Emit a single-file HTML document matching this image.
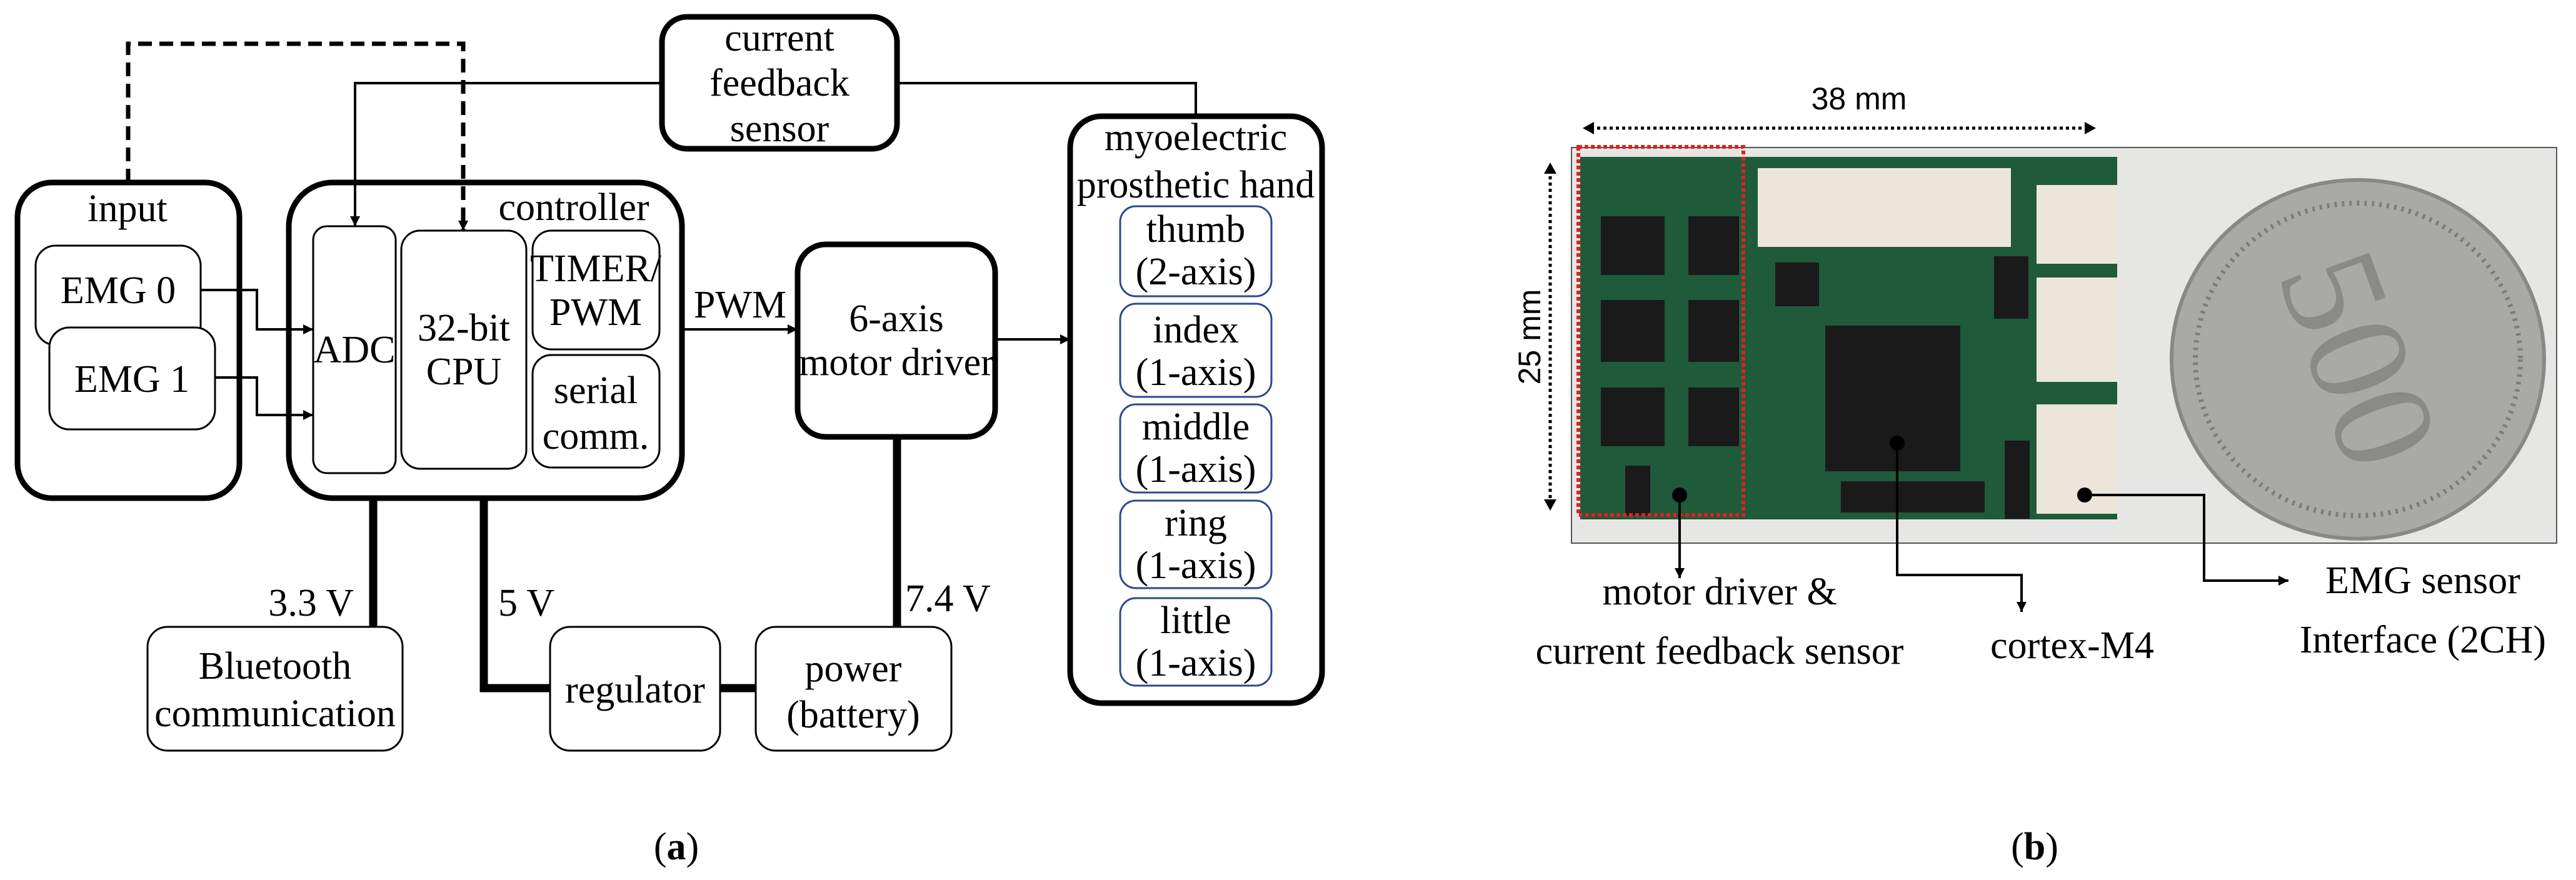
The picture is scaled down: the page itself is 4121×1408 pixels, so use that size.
<!DOCTYPE html>
<html><head><meta charset="utf-8"><style>
html,body{margin:0;padding:0;background:#fff}
svg{display:block}
</style></head><body>
<svg width="4121" height="1408" viewBox="0 0 4121 1408" xmlns="http://www.w3.org/2000/svg" font-family="'Liberation Serif', 'DejaVu Serif', serif" font-size="62">
<defs>
<marker id="ar" viewBox="0 0 10 10" refX="10" refY="5" markerWidth="16" markerHeight="16" markerUnits="userSpaceOnUse" orient="auto"><path d="M0,0L10,5L0,10z" fill="#000"/></marker>
</defs>
<g fill="none" stroke="#000">
<rect x="28" y="292" width="355" height="505" rx="55" stroke-width="9"/>
<rect x="462" y="292" width="629" height="505" rx="70" stroke-width="9"/>
<rect x="1059" y="27" width="376" height="211" rx="40" stroke-width="9"/>
<rect x="1276" y="391" width="316" height="308" rx="45" stroke-width="9"/>
<rect x="1712" y="186" width="403" height="939" rx="50" stroke-width="9"/>
<rect x="57" y="393" width="264" height="159" rx="32" stroke-width="3"/>
<rect x="79" y="524" width="265" height="163" rx="32" stroke-width="3" fill="#fff"/>
<rect x="501" y="362" width="132" height="395" rx="22" stroke-width="3"/>
<rect x="642" y="369" width="200" height="381" rx="30" stroke-width="3"/>
<rect x="852" y="369" width="203" height="190" rx="30" stroke-width="3"/>
<rect x="852" y="568" width="203" height="180" rx="30" stroke-width="3"/>
<rect x="236" y="1003" width="408" height="198" rx="32" stroke-width="3"/>
<rect x="880" y="1003" width="272" height="198" rx="32" stroke-width="3"/>
<rect x="1209" y="1003" width="313" height="198" rx="32" stroke-width="3"/>
<g stroke="#2b4a8c" stroke-width="3">
<rect x="1792" y="330" width="242" height="144" rx="25"/>
<rect x="1792" y="486" width="242" height="149" rx="25"/>
<rect x="1792" y="647" width="242" height="141" rx="25"/>
<rect x="1792" y="801" width="242" height="140" rx="25"/>
<rect x="1792" y="957" width="242" height="140" rx="25"/>
</g>
<g stroke-width="4">
<polyline points="321,464 411,464 411,527 501,527" marker-end="url(#ar)"/>
<polyline points="344,604 411,604 411,664 501,664" marker-end="url(#ar)"/>
<line x1="1095" y1="527" x2="1276" y2="527" marker-end="url(#ar)"/>
<line x1="1596" y1="543" x2="1712" y2="543" marker-end="url(#ar)"/>
<polyline points="1059,133 568,133 568,362" marker-end="url(#ar)"/>
<polyline points="1435,133 1913,133 1913,186"/>
</g>
<polyline points="205,292 205,70 741,70 741,369" stroke-width="7" stroke-dasharray="22,12" marker-end="url(#ar)"/>
<g stroke-width="13">
<line x1="597" y1="797" x2="597" y2="1003"/>
<polyline points="774,797 774,1101 880,1101"/>
<line x1="1152" y1="1101" x2="1209" y2="1101"/>
<line x1="1435" y1="699" x2="1435" y2="1003"/>
</g>
</g>
<g text-anchor="middle">
<text x="204" y="354">input</text>
<text x="918" y="352">controller</text>
<text x="189" y="485">EMG 0</text>
<text x="211" y="627">EMG 1</text>
<text x="567" y="580">ADC</text>
<text x="742" y="545">32-bit</text>
<text x="742" y="615">CPU</text>
<text x="953" y="450">TIMER/</text>
<text x="953" y="520">PWM</text>
<text x="953" y="645">serial</text>
<text x="953" y="718">comm.</text>
<text x="1247" y="81">current</text>
<text x="1247" y="153">feedback</text>
<text x="1247" y="226">sensor</text>
<text x="1434" y="530">6-axis</text>
<text x="1434" y="600">motor driver</text>
<text x="1184" y="508">PWM</text>
<text x="1913" y="240">myoelectric</text>
<text x="1913" y="316">prosthetic hand</text>
<text x="1913" y="387">thumb</text>
<text x="1913" y="455">(2-axis)</text>
<text x="1913" y="548">index</text>
<text x="1913" y="616">(1-axis)</text>
<text x="1913" y="703">middle</text>
<text x="1913" y="771">(1-axis)</text>
<text x="1913" y="857">ring</text>
<text x="1913" y="925">(1-axis)</text>
<text x="1913" y="1013">little</text>
<text x="1913" y="1081">(1-axis)</text>
<text x="440" y="1086">Bluetooth</text>
<text x="440" y="1162">communication</text>
<text x="1016" y="1124">regulator</text>
<text x="1365" y="1090">power</text>
<text x="1365" y="1164">(battery)</text>
<text x="1082" y="1375">(<tspan font-weight="bold">a</tspan>)</text>
<text x="3255" y="1375">(<tspan font-weight="bold">b</tspan>)</text>
</g>
<text x="566" y="985" text-anchor="end">3.3 V</text>
<text x="797" y="985">5 V</text>
<text x="1448" y="978">7.4 V</text>
<rect x="2514" y="236" width="1576" height="633" fill="#e6e6e4" stroke="#555" stroke-width="2"/>
<rect x="2528" y="251" width="859" height="580" fill="#1f5a3a"/>
<rect x="2812" y="269" width="405" height="126" fill="#ece6da"/>
<rect x="3258" y="296" width="129" height="126" fill="#ece6da"/>
<rect x="3258" y="444" width="129" height="167" fill="#ece6da"/>
<rect x="3258" y="647" width="129" height="175" fill="#ece6da"/>
<g fill="#1a1a1a">
<rect x="2561" y="346" width="102" height="94"/><rect x="2701" y="346" width="81" height="94"/>
<rect x="2561" y="480" width="102" height="99"/><rect x="2701" y="480" width="81" height="99"/>
<rect x="2561" y="620" width="102" height="94"/><rect x="2701" y="620" width="81" height="94"/>
<rect x="2920" y="521" width="216" height="233"/>
<rect x="2840" y="420" width="70" height="70"/>
<rect x="3190" y="410" width="55" height="100"/>
<rect x="2945" y="770" width="230" height="50"/>
<rect x="3207" y="705" width="40" height="125"/>
<rect x="2600" y="745" width="40" height="80"/>
</g>
<ellipse cx="3772" cy="575" rx="298" ry="287" fill="#a9a9a6" stroke="#888" stroke-width="6"/>
<ellipse cx="3772" cy="575" rx="260" ry="250" fill="none" stroke="#7d7d7a" stroke-width="8" stroke-dasharray="4,8"/>
<text x="3772" y="650" text-anchor="middle" fill="#8a8a86" font-size="230" transform="rotate(70 3772 575)">500</text>
<rect x="2525" y="235" width="264" height="589" fill="none" stroke="#e02020" stroke-width="6" stroke-dasharray="6,4"/>
<g stroke="#000" stroke-width="5" fill="none">
<line x1="2545" y1="205" x2="3340" y2="205" stroke-dasharray="5,5"/>
<line x1="2480" y1="272" x2="2480" y2="805" stroke-dasharray="5,5"/>
</g>
<path d="M2532,205l18,-10v20z M3353,205l-18,-10v20z M2480,260l-10,18h20z M2480,817l-10,-18h20z" fill="#000"/>
<text font-family="'Liberation Sans', 'DejaVu Sans', sans-serif" font-size="50" x="2974" y="175" text-anchor="middle">38 mm</text>
<text font-family="'Liberation Sans', 'DejaVu Sans', sans-serif" font-size="50" x="2464" y="539" text-anchor="middle" transform="rotate(-90 2464 539)">25 mm</text>
<g stroke="#000" stroke-width="4" fill="none">
<line x1="2687" y1="792" x2="2687" y2="925" marker-end="url(#ar)"/>
<polyline points="3035,709 3035,920 3234,920 3234,979" marker-end="url(#ar)"/>
<polyline points="3335,792 3526,792 3526,929 3661,929" marker-end="url(#ar)"/>
</g>
<circle cx="2687" cy="792" r="12"/><circle cx="3035" cy="709" r="12"/><circle cx="3335" cy="792" r="12"/>
<g text-anchor="middle">
<text x="2751" y="967">motor driver &amp;</text>
<text x="2751" y="1062">current feedback sensor</text>
<text x="3315" y="1053">cortex-M4</text>
<text x="3876" y="949">EMG sensor</text>
<text x="3876" y="1044">Interface (2CH)</text>
</g>
</svg>
</body></html>
